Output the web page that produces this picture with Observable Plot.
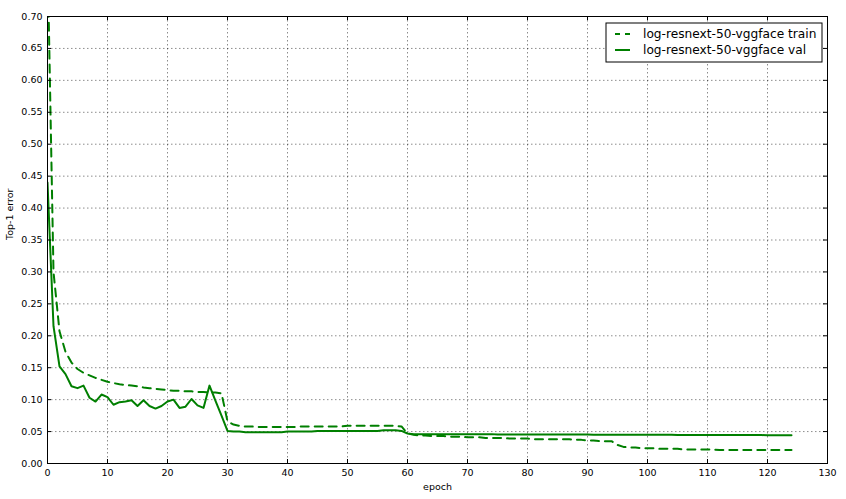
<!DOCTYPE html>
<html>
<head>
<meta charset="utf-8">
<script src="https://cdn.jsdelivr.net/npm/d3@7"></script>
<script src="https://cdn.jsdelivr.net/npm/@observablehq/plot@0.6"></script>
<style>
  html, body { margin: 0; padding: 0; background: #fff; }
  #chart { width: 846px; height: 499px; }
  svg { font-family: "DejaVu Sans", sans-serif; }
</style>
</head>
<body>
<div id="chart"></div>
<script>
const seriesNames = ["log-resnext-50-vggface train", "log-resnext-50-vggface val"];

const trainError = [
  0.80, 0.300, 0.207, 0.175, 0.158, 0.148, 0.142, 0.138, 0.134, 0.131,
  0.128, 0.126, 0.124, 0.123, 0.122, 0.121, 0.119, 0.118, 0.117, 0.116,
  0.115, 0.114, 0.114, 0.113, 0.113, 0.112, 0.112, 0.111, 0.111, 0.110,
  0.066, 0.061, 0.059, 0.058, 0.058, 0.057, 0.057, 0.057, 0.057, 0.057,
  0.057, 0.057, 0.058, 0.058, 0.058, 0.058, 0.058, 0.058, 0.058, 0.058,
  0.059, 0.059, 0.059, 0.059, 0.059, 0.059, 0.059, 0.059, 0.059, 0.058,
  0.047, 0.045, 0.044, 0.044, 0.043, 0.043, 0.043, 0.042, 0.042, 0.042,
  0.041, 0.041, 0.041, 0.040, 0.040, 0.040, 0.040, 0.039, 0.039, 0.039,
  0.039, 0.038, 0.038, 0.038, 0.038, 0.038, 0.038, 0.038, 0.037, 0.037,
  0.036, 0.036, 0.035, 0.035, 0.035, 0.029, 0.026, 0.025, 0.025, 0.024,
  0.024, 0.024, 0.023, 0.023, 0.023, 0.023, 0.022, 0.022, 0.022, 0.022,
  0.022, 0.022, 0.021, 0.021, 0.021, 0.021, 0.021, 0.021, 0.021, 0.021,
  0.021, 0.021, 0.021, 0.021, 0.021
];

const valError = [
  0.440, 0.215, 0.152, 0.140, 0.121, 0.118, 0.122, 0.103, 0.097, 0.108,
  0.104, 0.092, 0.096, 0.097, 0.099, 0.090, 0.099, 0.090, 0.086, 0.090,
  0.097, 0.100, 0.087, 0.089, 0.101, 0.091, 0.087, 0.122, 0.098, 0.075,
  0.051, 0.050, 0.050, 0.049, 0.049, 0.049, 0.049, 0.049, 0.049, 0.049,
  0.050, 0.050, 0.050, 0.050, 0.050, 0.051, 0.051, 0.051, 0.051, 0.051,
  0.051, 0.051, 0.051, 0.051, 0.051, 0.051, 0.052, 0.052, 0.052, 0.051,
  0.047, 0.046, 0.046, 0.046, 0.046, 0.046, 0.046, 0.046, 0.046, 0.046,
  0.046, 0.046, 0.046, 0.046, 0.046, 0.0455, 0.0455, 0.0455, 0.0455, 0.0455,
  0.0455, 0.0455, 0.0455, 0.0455, 0.0455, 0.0455, 0.0455, 0.0455, 0.0455, 0.0455,
  0.0453, 0.045, 0.045, 0.045, 0.045, 0.045, 0.045, 0.045, 0.045, 0.045,
  0.045, 0.045, 0.045, 0.045, 0.045, 0.0445, 0.0445, 0.0445, 0.0445, 0.0445,
  0.0445, 0.0445, 0.0445, 0.0445, 0.0445, 0.0445, 0.0445, 0.0445, 0.0445, 0.0445,
  0.0442, 0.0442, 0.0442, 0.0442, 0.0442
];

const xTicks = d3.range(0, 131, 10);
const yTicks = d3.range(0, 15).map(i => +(i * 0.05).toFixed(2));

const train = trainError.map((v, i) => ({epoch: i, err: v}));
const val = valError.map((v, i) => ({epoch: i, err: v}));

const W = 846, H = 499, mL = 47, mR = 19, mT = 16, mB = 36;
const fw = W - mL - mR, fh = H - mT - mB;
const green = "#007f00";
const tickLen = 4;
const dashPattern = "8,6";

const plot = Plot.plot({
  width: W, height: H,
  marginLeft: mL, marginRight: mR, marginTop: mT, marginBottom: mB,
  style: {fontFamily: "DejaVu Sans, sans-serif", fontSize: "9.5px", color: "#000", background: "#fff"},
  x: {domain: [0, 130]},
  y: {domain: [0, 0.70]},
  marks: [
    Plot.gridX(xTicks.slice(1, -1), {stroke: "#000", strokeOpacity: 0.45, strokeDasharray: "1.5,2.5"}),
    Plot.gridY(yTicks.slice(1, -1), {stroke: "#000", strokeOpacity: 0.45, strokeDasharray: "1.5,2.5"}),
    Plot.line(train, {x: "epoch", y: "err", stroke: green, strokeWidth: 2, strokeDasharray: dashPattern, clip: true}),
    Plot.line(val, {x: "epoch", y: "err", stroke: green, strokeWidth: 2, clip: true}),
    // inward ticks on all four sides
    Plot.tickX(xTicks, {x: d => d, insetTop: fh - tickLen, stroke: "#000"}),
    Plot.tickX(xTicks, {x: d => d, insetBottom: fh - tickLen, stroke: "#000"}),
    Plot.tickY(yTicks, {y: d => d, insetRight: fw - tickLen, stroke: "#000"}),
    Plot.tickY(yTicks, {y: d => d, insetLeft: fw - tickLen, stroke: "#000"}),
    Plot.axisX(xTicks, {tickSize: 0, tickPadding: 6, label: null, fontSize: 9.5, fill: "#000"}),
    Plot.axisY(yTicks, {tickSize: 0, tickPadding: 5, label: null, tickFormat: d3.format(".2f"), fontSize: 9.5, fill: "#000"}),
    Plot.text(["epoch"], {frameAnchor: "bottom", dy: 26, text: d => d, fontSize: 9.5, fill: "#000"}),
    Plot.text(["Top-1 error"], {frameAnchor: "left", dx: -38, rotate: -90, text: d => d, fontSize: 9.5, fill: "#000"}),
    Plot.frame({stroke: "#000", strokeWidth: 1})
  ]
});

document.getElementById("chart").appendChild(plot);

// legend (upper right, inside the frame)
const svg = d3.select(plot);
const lg = svg.append("g")
  .attr("font-family", "DejaVu Sans, sans-serif")
  .attr("font-size", 12.2)
  .attr("text-anchor", "start");
const bx = 606, by = 23, bw = 216, bh = 39;
lg.append("rect").attr("x", bx).attr("y", by).attr("width", bw).attr("height", bh)
  .attr("fill", "#fff").attr("stroke", "#000").attr("stroke-width", 1);
const rows = [
  {name: seriesNames[0], dash: "5,5", y: by + 11},
  {name: seriesNames[1], dash: null, y: by + 27}
];
rows.forEach(r => {
  lg.append("line").attr("x1", bx + 9).attr("x2", bx + 24).attr("y1", r.y).attr("y2", r.y)
    .attr("stroke", green).attr("stroke-width", 2).attr("stroke-dasharray", r.dash);
  lg.append("text").attr("x", bx + 37).attr("y", r.y).attr("dy", "0.35em")
    .attr("text-anchor", "start").attr("fill", "#000").text(r.name);
});
</script>
</body>
</html>
